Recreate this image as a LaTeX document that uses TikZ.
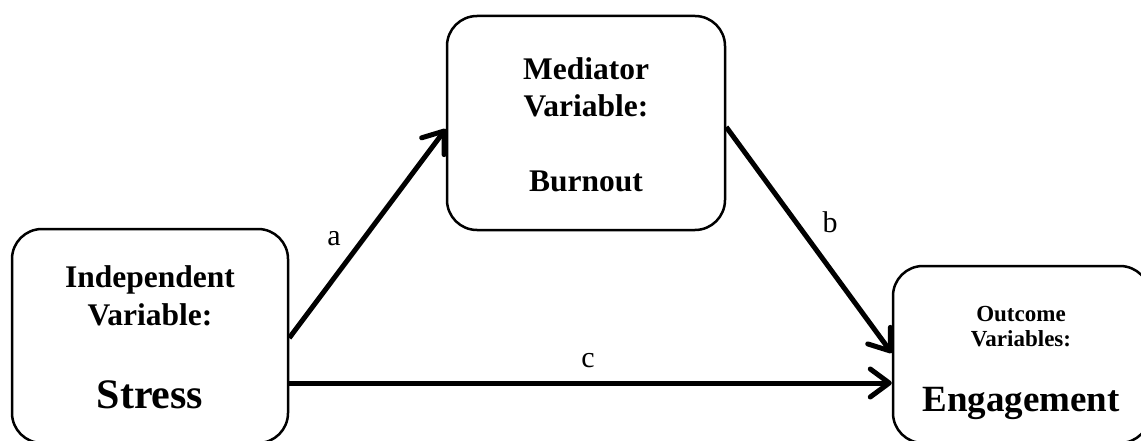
\documentclass[tikz,border=0pt]{standalone}
\usepackage{fontspec}
\setmainfont{Liberation Serif}
\usetikzlibrary{arrows.meta}
\begin{document}
\begin{tikzpicture}[x=1pt,y=-1pt,
  box/.style={draw, line width=2.5pt, rounded corners=30pt, inner sep=0pt},
  conn/.style={line width=5pt, -{Straight Barb[length=19pt,width=28pt,line cap=round,line join=round]}},
  boxtext/.style={anchor=base, inner sep=0pt, font=\bfseries\fontsize{31.5}{36}\selectfont},
  lbl/.style={anchor=base, inner sep=0pt, font=\fontsize{30}{36}\selectfont}]
\useasboundingbox (0,0) rectangle (1141,441);
\clip (0,0) rectangle (1141,441);
\fill[white] (0,0) rectangle (1141,441);
% boxes
\node[box, minimum width=276pt, minimum height=214pt] (L) at (150,336) {};
\node[box, minimum width=278pt, minimum height=214pt] (M) at (586,123) {};
\node[box, minimum width=257pt, minimum height=177pt] (R) at (1021.5,354.5) {};
% texts
\node[boxtext] (l1) at (150,287) {Independent};
\node[boxtext] (l2) at (150,325) {Variable:};
\node[boxtext, font=\bfseries\fontsize{42}{48}\selectfont] (l3) at (150,408) {Stress};
\node[boxtext] (m1) at (586,80) {Mediator};
\node[boxtext] (m2) at (586,117) {Variable:};
\node[boxtext] (m3) at (586,191) {Burnout};
\node[boxtext, font=\bfseries\fontsize{23}{28}\selectfont] (r1) at (1021,321) {Outcome};
\node[boxtext, font=\bfseries\fontsize{23}{28}\selectfont] (r2) at (1021,346) {Variables:};
\node[boxtext, font=\bfseries\fontsize{37}{44}\selectfont] (r3) at (1021,411) {Engagement};
% connectors
\draw[conn] ([yshift=-2pt]L.east) -- ([yshift=-6pt]M.west);
\draw[conn] ([yshift=-4pt]M.east) -- ([yshift=1.5pt]R.west);
\coordinate (cs) at ([yshift=-47pt]L.east);
\draw[conn] (cs) -- (cs -| R.west);
% labels
\node[lbl] (la) at (334,245) {a};
\node[lbl] (lb) at (830,233) {b};
\node[lbl] (lc) at (588,367) {c};
\end{tikzpicture}
\end{document}
